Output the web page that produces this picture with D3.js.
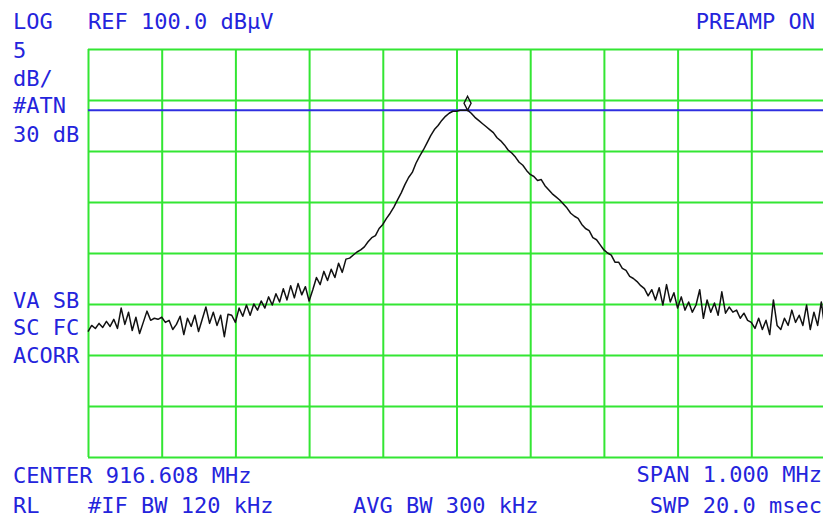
<!DOCTYPE html>
<html>
<head>
<meta charset="utf-8">
<script src="https://cdn.jsdelivr.net/npm/d3@7"></script>
<style>
  html, body { margin: 0; padding: 0; background: #ffffff; }
  svg { display: block; }
  text { font-family: "DejaVu Sans Mono", "Liberation Mono", monospace; font-size: 22px; fill: #2424dc; }
</style>
</head>
<body>
<svg id="chart" width="823" height="518"></svg>
<script>
// ---------- data ----------
const centerMHz = 916.608;
const spanMHz = 1.0;
const refLevel = 100.0;       // dBuV, top of graticule
const dbPerDiv = 5;
const xDivs = 10;
const yDivs = 8;
const displayLine = 94.0;     // dBuV
const stepMHz = 0.005;        // trace point spacing
const markerIndex = 103;      // peak marker sample

// trace amplitude in dBuV, one value per 5 kHz from the left edge
const traceDb = [
  72.3, 72.9, 72.6, 73.1, 72.7, 73.3, 72.8, 73.5, 72.6, 74.6,
  73.0, 74.2, 72.4, 73.7, 72.1, 73.2, 74.3, 73.4, 73.6, 73.5,
  73.7, 73.2, 73.4, 72.5, 73.0, 73.8, 72.0, 73.6, 72.8, 73.9,
  72.3, 73.5, 74.7, 73.1, 74.2, 72.9, 73.9, 71.8, 74.0,
  73.9, 73.2, 74.6, 73.8, 74.9, 73.9, 75.0, 74.4, 75.3, 74.6, 75.7, 74.9,
  76.0, 75.2, 76.5, 75.4, 76.8, 75.6, 77.0, 75.9, 76.7, 75.3,
  76.4, 77.6, 76.9, 78.2, 77.3, 78.4, 77.6, 79.0, 78.1, 79.4,
  79.5, 79.8, 80.1, 80.3, 80.6, 81.1, 81.5, 81.7, 82.4, 82.8,
  83.4, 83.9, 84.5, 85.2, 85.9, 86.7, 87.4, 87.9, 88.8, 89.5,
  90.1, 90.8, 91.5, 92.1, 92.5, 93.0, 93.4, 93.7, 93.9, 93.9,
  94.0, 94.0, 94.0, 93.7, 93.3, 93.0, 92.7, 92.4, 92.1, 91.8,
  91.3, 91.0, 90.6, 90.1, 89.8, 89.4, 88.9, 88.6, 88.1, 87.7,
  87.5, 87.1, 87.2, 86.6, 86.2, 85.8, 85.5, 85.2, 84.8, 84.4,
  83.9, 83.6, 83.4, 82.8, 82.4, 82.2, 81.5, 81.3, 80.8, 80.3,
  80.0, 79.8, 79.1, 79.1, 78.5, 78.3, 77.7, 77.5, 77.2, 76.8,
  76.5, 75.8, 76.4, 75.4, 76.6, 74.9, 76.9, 75.2, 76.1, 74.6,
  75.7, 74.4, 75.2, 74.2, 74.9, 76.4, 73.6, 75.4, 74.2, 75.1,
  73.9, 76.2, 74.1, 74.7, 74.2, 74.4, 73.6, 74.1, 73.4, 73.2,
  72.6, 73.6, 72.5, 73.4, 72.0, 75.4, 72.9, 72.5, 73.6, 72.9,
  74.4, 73.2, 73.9, 72.9, 74.9, 72.5, 74.2, 72.9, 75.2, 72.5
];

// annotation texts
const topLeftLabels = ["LOG", "5", "dB/", "#ATN", "30 dB"];
const midLeftLabels = ["VA SB", "SC FC", "ACORR"];
const refLabel = "REF 100.0 dB\u03bcV";
const preampLabel = "PREAMP ON";
const centerLabel = "CENTER 916.608 MHz";
const spanLabel = "SPAN 1.000 MHz";
const rlLabel = "RL";
const ifbwLabel = "#IF BW 120 kHz";
const avgbwLabel = "AVG BW 300 kHz";
const swpLabel = "SWP 20.0 msec";

// ---------- layout ----------
const svg = d3.select("#chart");
const W = 823, H = 518;
const plot = { left: 88, right: 825, top: 49, bottom: 457 };
const GREEN = "#33e633";

svg.append("rect").attr("width", W).attr("height", H).attr("fill", "#ffffff");

const fStart = centerMHz - spanMHz / 2;
const fStop = centerMHz + spanMHz / 2;
const x = d3.scaleLinear().domain([fStart, fStop]).range([plot.left, plot.right]);
const bottomDb = refLevel - dbPerDiv * yDivs;
const y = d3.scaleLinear().domain([bottomDb, refLevel]).range([plot.bottom, plot.top]);

const xTicks = d3.range(xDivs + 1).map(i => fStart + i * spanMHz / xDivs);
const yTicks = d3.range(yDivs + 1).map(i => bottomDb + i * dbPerDiv);

// vertical grid
const gx = svg.append("g")
  .attr("transform", `translate(0,${plot.bottom})`)
  .call(d3.axisBottom(x).tickValues(xTicks).tickSize(-(plot.bottom - plot.top)).tickFormat(""));
gx.select(".domain").remove();
gx.selectAll(".tick line").attr("stroke", GREEN).attr("stroke-width", 2);

// horizontal grid
const gy = svg.append("g")
  .attr("transform", `translate(${plot.left},0)`)
  .call(d3.axisLeft(y).tickValues(yTicks).tickSize(-(plot.right - plot.left)).tickFormat(""));
gy.select(".domain").remove();
gy.selectAll(".tick line").attr("stroke", GREEN).attr("stroke-width", 2);

// display line
svg.append("line")
  .attr("x1", plot.left).attr("x2", plot.right)
  .attr("y1", y(displayLine)).attr("y2", y(displayLine))
  .attr("stroke", "#2f2fe0").attr("stroke-width", 2);

// trace
const pts = traceDb.map((v, i) => ({ f: fStart + i * stepMHz, v }));
svg.append("path")
  .datum(pts)
  .attr("fill", "none")
  .attr("stroke", "#111111")
  .attr("stroke-width", 1.5)
  .attr("stroke-linejoin", "round")
  .attr("d", d3.line().x(d => x(d.f)).y(d => y(d.v)));

// peak marker (diamond sitting on the trace)
const mk = pts[markerIndex];
const mx = x(mk.f), my = y(mk.v);
svg.append("path")
  .attr("d", `M${mx},${my} L${mx + 3.5},${my - 7} L${mx},${my - 14} L${mx - 3.5},${my - 7} Z`)
  .attr("fill", "none")
  .attr("stroke", "#111111")
  .attr("stroke-width", 1.4);

// ---------- annotation text ----------
function label(str, xPos, yPos, anchor) {
  svg.append("text").attr("x", xPos).attr("y", yPos)
    .attr("text-anchor", anchor || "start").text(str);
}
const topLeftY = [29, 58, 86, 113, 142];
topLeftLabels.forEach((t, i) => label(t, 13, topLeftY[i]));
const midLeftY = [308, 335, 363];
midLeftLabels.forEach((t, i) => label(t, 13, midLeftY[i]));
label(refLabel, 88, 29);
label(preampLabel, 815, 29, "end");
label(centerLabel, 13, 483);
label(spanLabel, 822, 482, "end");
label(rlLabel, 13, 513);
label(ifbwLabel, 88, 513);
label(avgbwLabel, 353, 513);
label(swpLabel, 822, 513, "end");
</script>
</body>
</html>
